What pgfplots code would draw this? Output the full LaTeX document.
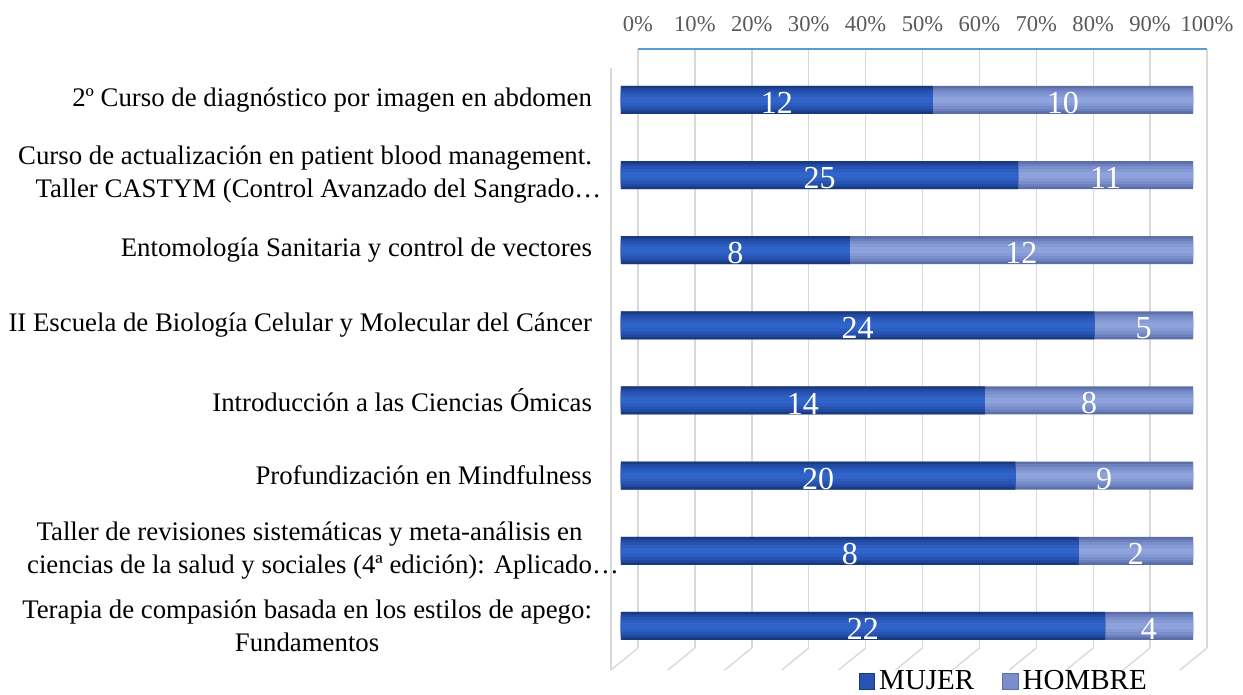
\documentclass[border=0pt]{standalone}
\usepackage{pgfplots}
\pgfplotsset{compat=1.18}
\usepackage{pgfplotstable}
\usepackage{fontspec}
\setmainfont{Liberation Serif}
\definecolor{mujA}{HTML}{193A80}
\definecolor{mujB}{HTML}{2149A0}
\definecolor{mujC}{HTML}{2754B2}
\definecolor{mujD}{HTML}{2C5DC0}
\definecolor{mujE}{HTML}{3164C8}
\definecolor{homA}{HTML}{5B6EA8}
\definecolor{homB}{HTML}{6C80BD}
\definecolor{homC}{HTML}{7A8ECB}
\definecolor{homD}{HTML}{8599D4}
\definecolor{homE}{HTML}{8EA2DC}
\definecolor{topline}{HTML}{5B9BD5}
\definecolor{gridc}{HTML}{D9D9D9}
\definecolor{tickc}{HTML}{595959}

\pgfplotstableread{
y m h
0 12 10
1 25 11
2 8 12
3 24 5
4 14 8
5 20 9
6 8 2
7 22 4
}\data

\pgfplotsset{
  layer/.style n args={2}{xbar, bar width=#2, bar shift=0pt, draw=none, fill=#1, forget plot},
}

\begin{document}
\begin{tikzpicture}
\useasboundingbox (0,0) rectangle (621.5pt,347.5pt);
% background: grid, top axis line, percent labels, floor
\begin{axis}[
  at={(319pt,23.5pt)}, anchor=south west,
  width=284.5pt, height=299.5pt, scale only axis,
  xmin=0, xmax=100, ymin=0, ymax=1,
  axis x line*=top,
  axis y line=none,
  x axis line style={draw=topline, line width=0.9pt, -},
  xtick={0,10,...,100},
  xticklabels={0\%,10\%,20\%,30\%,40\%,50\%,60\%,70\%,80\%,90\%,100\%},
  xticklabel style={text=tickc, font=\fontsize{11.3}{13}\selectfont, yshift=5pt},
  ytick=\empty,
  xmajorgrids, major grid style={gridc, line width=0.7pt},
  major tick length=0pt,
  clip=false,
]
\pgfplotsinvokeforeach{0,10,...,100}{
  \draw[gridc, line width=0.7pt] (axis cs:#1,0) -- ++(-13.5pt,-11pt);
}
\draw[gridc, line width=0.7pt] (rel axis cs:0,0) ++(-13.5pt,-11pt) -- ++(0,301pt);
\end{axis}
% bars
\begin{axis}[
  at={(310.5pt,15pt)}, anchor=south west,
  width=286pt, height=308.5pt, scale only axis,
  xmin=0, xmax=100, ymin=-0.69, ymax=7.52, y dir=reverse,
  axis line style={draw=none},
  xtick=\empty,
  major tick length=0pt,
  ytick={0,...,7},
  yticklabels={
    {2º Curso de diagnóstico por imagen en abdomen},
    {Curso de actualización en patient blood management.\\ Taller CASTYM (Control Avanzado del Sangrado\rlap{…}},
    {Entomología Sanitaria y control de vectores},
    {II Escuela de Biología Celular y Molecular del Cáncer},
    {Introducción a las Ciencias Ómicas},
    {Profundización en Mindfulness},
    {Taller de revisiones sistemáticas y meta-análisis en\\ ciencias de la salud y sociales (4ª edición): Aplicado\rlap{…}},
    {Terapia de compasión basada en los estilos de apego:\\ Fundamentos}},
  yticklabel style={align=center, font=\fontsize{13.4}{16.5}\selectfont, xshift=-11pt},
  legend style={at={(0.671,0)}, anchor=center, yshift=-8.3pt, draw=none, fill=none,
    legend columns=2, font=\fontsize{14.5}{16}\selectfont,
    /tikz/every even column/.append style={column sep=12pt}},
  legend image code/.code={
    \filldraw[#1] (0pt,-3.9pt) rectangle (7.8pt,3.9pt);},
  clip=false,
]
% HOMBRE: drawn over the whole total (m+h), MUJER segment laid over it
\addplot[layer={homA}{14pt}] table[y=y, x expr={(\thisrow{m}+\thisrow{h})/(\thisrow{m}+\thisrow{h})*100}] {\data};
\addplot[layer={homB}{11.5pt}] table[y=y, x expr={(\thisrow{m}+\thisrow{h})/(\thisrow{m}+\thisrow{h})*100}] {\data};
\addplot[layer={homC}{9pt}] table[y=y, x expr={(\thisrow{m}+\thisrow{h})/(\thisrow{m}+\thisrow{h})*100}] {\data};
\addplot[layer={homD}{6pt}] table[y=y, x expr={(\thisrow{m}+\thisrow{h})/(\thisrow{m}+\thisrow{h})*100}] {\data};
\addplot[layer={homE}{3pt}] table[y=y, x expr={(\thisrow{m}+\thisrow{h})/(\thisrow{m}+\thisrow{h})*100}] {\data};
\addplot[layer={mujA}{14pt}] table[y=y, x expr={\thisrow{m}/(\thisrow{m}+\thisrow{h})*100}] {\data};
\addplot[layer={mujB}{11.5pt}] table[y=y, x expr={\thisrow{m}/(\thisrow{m}+\thisrow{h})*100}] {\data};
\addplot[layer={mujC}{9pt}] table[y=y, x expr={\thisrow{m}/(\thisrow{m}+\thisrow{h})*100}] {\data};
\addplot[layer={mujD}{6pt}] table[y=y, x expr={\thisrow{m}/(\thisrow{m}+\thisrow{h})*100}] {\data};
\addplot[layer={mujE}{3pt}] table[y=y, x expr={\thisrow{m}/(\thisrow{m}+\thisrow{h})*100}] {\data};
\addlegendimage{fill=mujC, draw=mujA}
\addlegendentry{MUJER}
\addlegendimage{fill=homC, draw=homA}
\addlegendentry{HOMBRE}
\addplot[draw=none, mark=none, forget plot, nodes near coords, point meta=explicit symbolic,
  every node near coord/.append style={anchor=center, text=white,
    font=\fontsize{16}{18}\selectfont, yshift=-1.5pt}]
  table[y=y, x expr={\thisrow{m}/(\thisrow{m}+\thisrow{h})*50}, meta=m] {\data};
\addplot[draw=none, mark=none, forget plot, nodes near coords, point meta=explicit symbolic,
  every node near coord/.append style={anchor=center, text=white,
    font=\fontsize{16}{18}\selectfont, yshift=-1.5pt}]
  table[y=y, x expr={(\thisrow{m}+\thisrow{h}/2)/(\thisrow{m}+\thisrow{h})*100}, meta=h] {\data};
\end{axis}
\end{tikzpicture}
\end{document}
